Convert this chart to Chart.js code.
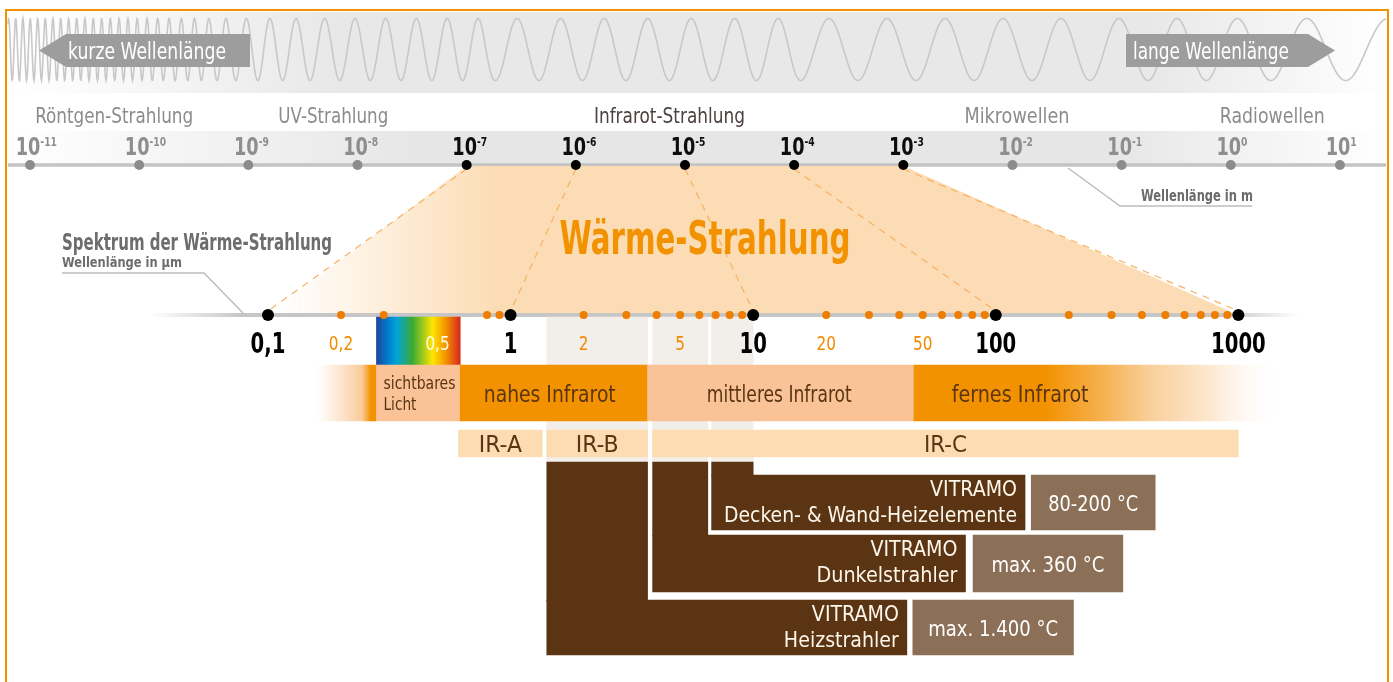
<!DOCTYPE html>
<html>
<head>
<meta charset="utf-8">
<title>Wärme-Strahlung</title>
<script src="https://cdn.jsdelivr.net/npm/chart.js@4.4.1/dist/chart.umd.min.js"></script>
<style>
  html, body { margin: 0; padding: 0; background: #fff; }
  canvas { display: block; }
</style>
</head>
<body>
<canvas id="spectrumChart" width="1393" height="682"></canvas>
<script>
// top scale: wavelength in m (decade exponents)
var meterExponents = [-11, -10, -9, -8, -7, -6, -5, -4, -3, -2, -1, 0, 1];
var heatExponents = [-7, -6, -5, -4, -3];
var regionNames = ['Röntgen-Strahlung', 'UV-Strahlung', 'Infrarot-Strahlung', 'Mikrowellen', 'Radiowellen'];
var regionCenters = [5.9e-11, 6.0e-9, 7.2e-6, 1.1e-2, 2.4];

// lower scale: wavelength in µm
var majorTicks = [0.1, 1, 10, 100, 1000];
var majorLabels = ['0,1', '1', '10', '100', '1000'];
var minorTicks = [0.2, 0.5, 2, 5, 20, 50];
var minorLabels = ['0,2', '0,5', '2', '5', '20', '50'];
var minorDots = [0.2, 0.3, 0.8, 0.9, 2, 3, 4, 5, 6, 7, 8, 9, 20, 30, 40, 50, 60, 70, 80, 90,
                 200, 300, 400, 500, 600, 700, 800, 900];

// ranges in µm
var bandNames = ['', 'sichtbares Licht', 'nahes Infrarot', 'mittleres Infrarot', 'fernes Infrarot'];
var bandFrom = [0.16, 0.28, 0.62, 3.67, 46];
var bandTo = [0.28, 0.62, 3.67, 46, 1500];
var bandLabelAt = [null, null, 1.45, 12.8, 126];

var irNames = ['IR-A', 'IR-B', 'IR-C'];
var irFrom = [0.61, 1.41, 3.85];
var irTo = [1.35, 3.67, 1000];

var heaterNames = ['Decken- & Wand-Heizelemente', 'Dunkelstrahler', 'Heizstrahler'];
var heaterFrom = [6.74, 3.85, 1.41];
var heaterTo = [10, 6.5, 3.67];
var heaterLabelTo = [132, 75, 43];
var tempNames = ['80-200 °C', 'max. 360 °C', 'max. 1.400 °C'];
var tempFrom = [140, 80.6, 45.5];
var tempTo = [454, 334, 209];

var FONT = '"Liberation Sans Narrow", "DejaVu Sans Condensed", sans-serif';
var CONDENSE = 0.87;
var ORANGE = '#f39200', PEACH = '#f9c397', LIGHT = '#fddcb4', BROWN = '#5b3513', TAUPE = '#8b6f56';

// printed widths of the labels (px), to mimic the narrow typeface
var textWidths = {
  'kurze Wellenlänge': 158, 'lange Wellenlänge': 156,
  'Röntgen-Strahlung': 158, 'UV-Strahlung': 110, 'Infrarot-Strahlung': 151, 'Mikrowellen': 105, 'Radiowellen': 105,
  'Wellenlänge in m': 112, 'Spektrum der Wärme-Strahlung': 270, 'Wellenlänge in µm': 120, 'Wärme-Strahlung': 291,
  'nahes Infrarot': 132, 'mittleres Infrarot': 145, 'fernes Infrarot': 137, 'sichtbares': 72, 'Licht': 33,
  'IR-A': 43, 'IR-B': 43, 'IR-C': 43, 'VITRAMO': 87,
  'Decken- & Wand-Heizelemente': 293, 'Dunkelstrahler': 141, 'Heizstrahler': 115,
  '80-200 °C': 90, 'max. 360 °C': 113, 'max. 1.400 °C': 130
};

// vertical layout (px)
var L = {
  topAxisY: 165, axisY: 315,
  colTop: 317, colBottom: 462,
  bandTop: 365, bandBottom: 421,
  irTop: 430, irBottom: 457,
  rows: [[475, 530], [535, 592], [600, 655]]
};

var wavePeriods = [[8, 7], [130, 9], [200, 14], [245, 22], [285, 26.5], [335, 30.5], [484, 31], [496, 43.5],
                   [790, 43.5], [812, 58], [1190, 58], [1257, 67], [1390, 88]];

function periodAt(x) {
  var p = wavePeriods;
  if (x <= p[0][0]) return p[0][1];
  for (var i = 1; i < p.length; i++) {
    if (x <= p[i][0]) {
      var t = (x - p[i - 1][0]) / (p[i][0] - p[i - 1][0]);
      return p[i - 1][1] + t * (p[i][1] - p[i - 1][1]);
    }
  }
  return p[p.length - 1][1];
}

function mid(a, b) { return (a + b) / 2; }
function px(chart, v) { return chart.scales.x.getPixelForValue(v); }
function pm(chart, v) { return chart.scales.x2.getPixelForValue(v); }

// draws text squeezed horizontally; returns the drawn width
function text(c, s, x, y, size, color, opts) {
  opts = opts || {};
  c.font = (opts.bold ? 'bold ' : '') + size + 'px ' + FONT;
  c.fillStyle = color;
  c.textAlign = 'left';
  c.textBaseline = 'alphabetic';
  var w = c.measureText(s).width;
  var target = textWidths[s];
  var k = target ? target / w : (opts.k || CONDENSE);
  var tw = w * k;
  var align = opts.align || 'center';
  var left = align === 'center' ? x - tw / 2 : (align === 'right' ? x - tw : x);
  c.save();
  c.translate(left, y);
  c.scale(k, 1);
  c.fillText(s, 0, 0);
  c.restore();
  return tw;
}

function bandColor(context) {
  var chart = context.chart, i = context.dataIndex;
  if (!chart.chartArea) return ORANGE;
  var c = chart.ctx, g;
  if (i === 0) {
    g = c.createLinearGradient(px(chart, bandFrom[0]), 0, px(chart, bandTo[0]), 0);
    g.addColorStop(0, 'rgba(249,196,150,0)');
    g.addColorStop(0.75, 'rgba(248,190,130,0.8)');
    g.addColorStop(0.9, ORANGE);
    g.addColorStop(1, ORANGE);
    return g;
  }
  if (i === 4) {
    g = c.createLinearGradient(px(chart, 160), 0, px(chart, bandTo[4]), 0);
    g.addColorStop(0, ORANGE);
    g.addColorStop(0.22, '#f6ae48');
    g.addColorStop(0.45, '#f9d09c');
    g.addColorStop(0.7, '#fde8d0');
    g.addColorStop(1, 'rgba(255,255,255,0)');
    return g;
  }
  return i % 2 ? PEACH : ORANGE;
}

function rainbow(context) {
  var chart = context.chart;
  if (!chart.chartArea) return '#3aaa35';
  var g = chart.ctx.createLinearGradient(px(chart, bandFrom[1]), 0, px(chart, bandTo[1]), 0);
  g.addColorStop(0, '#22449a');
  g.addColorStop(0.12, '#0077c8');
  g.addColorStop(0.24, '#00a3d9');
  g.addColorStop(0.43, '#3aaa35');
  g.addColorStop(0.67, '#ffe600');
  g.addColorStop(0.83, '#f39200');
  g.addColorStop(1, '#d7261e');
  return g;
}

function ranges(from, to, y) {
  return from.map(function (f, i) { return { x: [f, to[i]], y: y }; });
}

var datasets = [];
datasets.push({
  label: 'Spalten', data: ranges(heaterFrom, heaterTo, mid(L.colTop, L.colBottom)),
  barThickness: L.colBottom - L.colTop, backgroundColor: '#f2eeea', order: 9
});
datasets.push({
  label: 'sichtbares Licht', data: [{ x: [bandFrom[1], bandTo[1]], y: mid(L.colTop, L.bandTop) }],
  barThickness: L.bandTop - L.colTop, backgroundColor: rainbow, order: 8
});
datasets.push({
  label: 'Bereiche', data: ranges(bandFrom, bandTo, mid(L.bandTop, L.bandBottom)),
  barThickness: L.bandBottom - L.bandTop, backgroundColor: bandColor, order: 7
});
datasets.push({
  label: 'IR', data: ranges(irFrom, irTo, mid(L.irTop, L.irBottom)),
  barThickness: L.irBottom - L.irTop, backgroundColor: LIGHT, order: 7
});
heaterNames.forEach(function (name, i) {
  var r = L.rows[i];
  datasets.push({
    label: name + ' Spalte', data: [{ x: [heaterFrom[i], heaterTo[i]], y: mid(L.colBottom, r[0] + 1) }],
    barThickness: r[0] + 1 - L.colBottom, backgroundColor: BROWN, order: 6
  });
  datasets.push({
    label: name, data: [
      { x: [heaterFrom[i], heaterLabelTo[i]], y: mid(r[0], r[1]) },
      { x: [tempFrom[i], tempTo[i]], y: mid(r[0], r[1]) }
    ],
    barThickness: r[1] - r[0], backgroundColor: [BROWN, TAUPE], order: 6
  });
});
datasets.push({
  type: 'scatter', label: 'm', xAxisID: 'x2', indexAxis: 'x', order: 0,
  data: meterExponents.map(function (e) { return { x: Math.pow(10, e), y: L.topAxisY }; }),
  pointRadius: 5, pointBorderWidth: 0,
  pointBackgroundColor: meterExponents.map(function (e) { return heatExponents.indexOf(e) >= 0 ? '#000' : '#8c8c8c'; })
});
datasets.push({
  type: 'scatter', label: 'µm minor', indexAxis: 'x', order: 0,
  data: minorDots.map(function (v) { return { x: v, y: L.axisY }; }),
  pointRadius: 4, pointBorderWidth: 0, pointBackgroundColor: '#ef7d00'
});
datasets.push({
  type: 'scatter', label: 'µm major', indexAxis: 'x', order: 0,
  data: majorTicks.map(function (v) { return { x: v, y: L.axisY }; }),
  pointRadius: 6, pointBorderWidth: 0, pointBackgroundColor: '#000'
});

var decor = {
  id: 'decor',
  beforeDatasetsDraw: function (chart) {
    var c = chart.ctx, g;
    c.save();
    // wave band
    g = c.createLinearGradient(8, 0, 1386, 0);
    g.addColorStop(0, '#ffffff');
    g.addColorStop(0.05, '#fbfbfb');
    g.addColorStop(0.24, '#e8e8e8');
    g.addColorStop(0.83, '#e8e8e8');
    g.addColorStop(1, '#ffffff');
    c.fillStyle = g;
    c.fillRect(8, 12, 1378, 81);
    // wave
    var pts = [], ph = 0, ref = 0;
    for (var x = 8; x <= 1386; x += 0.5) {
      ph += Math.PI / periodAt(x);
      pts.push([x, ph]);
      if (Math.abs(x - 355) < 0.25) ref = ph;
    }
    c.beginPath();
    pts.forEach(function (p, i) {
      var y = 49.5 - 31 * Math.cos(p[1] - ref);
      if (i) c.lineTo(p[0], y); else c.moveTo(p[0], y);
    });
    c.strokeStyle = '#c8c8c8';
    c.lineWidth = 1.6;
    c.stroke();
    // arrows
    c.fillStyle = '#9d9d9d';
    c.beginPath();
    c.moveTo(39, 50.5); c.lineTo(66, 34); c.lineTo(250, 34); c.lineTo(250, 67); c.lineTo(66, 67);
    c.closePath(); c.fill();
    c.beginPath();
    c.moveTo(1126, 34); c.lineTo(1308, 34); c.lineTo(1335, 50.5); c.lineTo(1308, 67); c.lineTo(1126, 67);
    c.closePath(); c.fill();
    text(c, 'kurze Wellenlänge', 68, 59, 23, '#fff', { align: 'left' });
    text(c, 'lange Wellenlänge', 1133, 59, 23, '#fff', { align: 'left' });

    // scale band + top axis
    g = c.createLinearGradient(8, 0, 1386, 0);
    g.addColorStop(0, '#ffffff');
    g.addColorStop(0.3, '#e6e6e6');
    g.addColorStop(0.8, '#e6e6e6');
    g.addColorStop(1, '#ffffff');
    c.fillStyle = g;
    c.fillRect(8, 131, 1378, 33);
    c.fillStyle = '#c4c4c4';
    c.fillRect(8, L.topAxisY - 1.75, 1378, 3.5);

    regionNames.forEach(function (n, i) {
      text(c, n, pm(chart, regionCenters[i]), 123, 22, i === 2 ? '#4c4240' : '#8c8c8c');
    });
    meterExponents.forEach(function (e) {
      var x = pm(chart, Math.pow(10, e)) - 2;
      var col = heatExponents.indexOf(e) >= 0 ? '#0d0d0d' : '#8e8e8e';
      var w = text(c, '10', x, 155, 24, col, { bold: true, k: 0.82 });
      text(c, String(e), x + w / 2, 146, 12, col, { bold: true, align: 'left', k: 0.85 });
    });

    // heat radiation trapezoid
    var tl = pm(chart, 1e-7), tr = pm(chart, 1e-3);
    var bl = px(chart, majorTicks[0]), br = px(chart, majorTicks[4]);
    g = c.createLinearGradient(bl + 10, 0, 500, 0);
    g.addColorStop(0, 'rgba(252,220,180,0)');
    g.addColorStop(1, 'rgba(252,220,180,1)');
    c.fillStyle = g;
    c.beginPath();
    c.moveTo(tl, L.topAxisY + 1); c.lineTo(tr, L.topAxisY + 1);
    c.lineTo(br, L.axisY); c.lineTo(bl, L.axisY);
    c.closePath(); c.fill();
    c.setLineDash([7, 6]);
    c.strokeStyle = '#f7b162';
    c.lineWidth = 1.2;
    heatExponents.forEach(function (e, i) {
      c.beginPath();
      c.moveTo(pm(chart, Math.pow(10, e)), L.topAxisY + 4);
      c.lineTo(px(chart, majorTicks[i]), L.axisY - 4);
      c.stroke();
    });
    c.setLineDash([]);

    // lower axis line
    g = c.createLinearGradient(150, 0, 1300, 0);
    g.addColorStop(0, 'rgba(198,198,198,0)');
    g.addColorStop(0.08, '#c6c6c6');
    g.addColorStop(0.93, '#c6c6c6');
    g.addColorStop(1, 'rgba(198,198,198,0)');
    c.fillStyle = g;
    c.fillRect(150, L.axisY - 2, 1150, 4);

    // leader lines
    c.strokeStyle = '#bdbdbd';
    c.lineWidth = 1.5;
    c.beginPath();
    c.moveTo(1068, 168); c.lineTo(1120, 206); c.lineTo(1252, 206);
    c.moveTo(62, 273); c.lineTo(204, 273); c.lineTo(243, 313);
    c.stroke();
    text(c, 'Wellenlänge in m', 1141, 201, 15, '#6b6b6b', { bold: true, align: 'left' });
    text(c, 'Spektrum der Wärme-Strahlung', 62, 250, 23, '#6d6d6d', { bold: true, align: 'left' });
    text(c, 'Wellenlänge in µm', 62, 267, 14, '#6d6d6d', { bold: true, align: 'left' });
    c.restore();
  },
  afterDatasetsDraw: function (chart) {
    var c = chart.ctx;
    c.save();
    text(c, 'Wärme-Strahlung', 705, 254, 47, ORANGE, { bold: true });

    majorTicks.forEach(function (v, i) {
      text(c, majorLabels[i], px(chart, v), 353, 28, '#000', { bold: true, k: 0.78 });
    });
    minorTicks.forEach(function (v, i) {
      text(c, minorLabels[i], px(chart, v), 350, 20, v === 0.5 ? '#fffbe0' : '#f08a00', { k: 0.85 });
    });

    // band labels
    var sx = px(chart, bandFrom[1]) + 7;
    var parts = bandNames[1].split(' ');
    text(c, parts[0], sx, 389, 17, BROWN, { align: 'left' });
    text(c, parts[1], sx, 410, 17, BROWN, { align: 'left' });
    for (var i = 2; i < bandNames.length; i++) {
      text(c, bandNames[i], px(chart, bandLabelAt[i]), 402, 23, BROWN);
    }
    irNames.forEach(function (n, i) {
      text(c, n, mid(px(chart, irFrom[i]), px(chart, irTo[i])), 452, 23, BROWN);
    });
    heaterNames.forEach(function (n, i) {
      var r = L.rows[i];
      var right = px(chart, heaterLabelTo[i]) - 8;
      text(c, 'VITRAMO', right, r[0] + 21, 22, '#fdf6ea', { align: 'right' });
      text(c, n, right, r[0] + 47, 22, '#fdf6ea', { align: 'right' });
      text(c, tempNames[i], mid(px(chart, tempFrom[i]), px(chart, tempTo[i])), mid(r[0], r[1]) + 8, 22, '#fff');
    });

    // frame
    c.strokeStyle = ORANGE;
    c.lineWidth = 2;
    c.beginPath();
    c.moveTo(6, 682); c.lineTo(6, 10); c.lineTo(1388, 10); c.lineTo(1388, 682);
    c.stroke();
    c.restore();
  }
};

var chart = new Chart(document.getElementById('spectrumChart').getContext('2d'), {
  type: 'bar',
  data: { datasets: datasets },
  options: {
    indexAxis: 'y',
    responsive: false,
    maintainAspectRatio: false,
    animation: false,
    events: [],
    layout: { padding: 0, autoPadding: false },
    datasets: { bar: { grouped: false, borderWidth: 0 } },
    scales: {
      x: { type: 'logarithmic', axis: 'x', min: 0.00786, max: 4338, offset: false, display: false },
      x2: { type: 'logarithmic', axis: 'x', min: Math.pow(10, -11.275), max: Math.pow(10, 1.486), offset: false, display: false },
      y: { type: 'linear', axis: 'y', min: 0, max: 682, reverse: true, offset: false, display: false }
    },
    plugins: { legend: { display: false }, tooltip: { enabled: false } }
  },
  plugins: [decor]
});
</script>
</body>
</html>
